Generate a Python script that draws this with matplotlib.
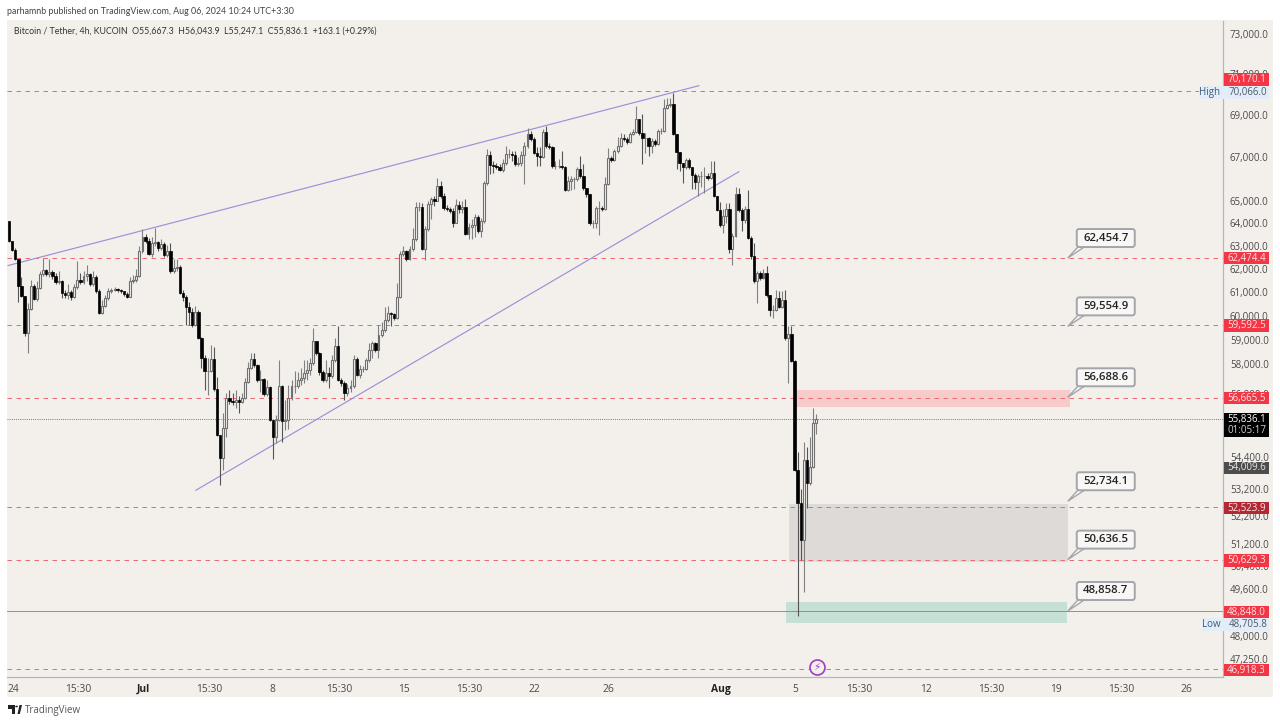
import numpy as np
import matplotlib
matplotlib.use('Agg')
import matplotlib.pyplot as plt
from matplotlib.patches import Rectangle, Polygon, FancyBboxPatch
from matplotlib.transforms import IdentityTransform

plt.rcParams['font.family'] = ['Open Sans', 'DejaVu Sans']

# candle data (4h bars), each open is the close before it
first_open = 64100
closes = [63220, 62824, 62432, 61272, 60808, 59267, 60262, 61272, 60682, 61145,
          61782, 61953, 61782, 61867, 61697, 61442, 61485, 60934, 60850, 60976,
          60766, 61187, 61527, 61442, 61697, 61782, 61315, 61655, 61018, 60095,
          60388, 60724, 61018, 61060, 61102, 61060, 61018, 60892, 60766, 61485,
          61527, 61697, 62780, 63396, 63220, 62650, 63132, 63176, 62912, 63088,
          62606, 62780, 61910, 62040, 62084, 60934, 60766, 60346, 60136, 59597,
          60136, 59062, 58246, 57720, 57720, 58205, 57000, 55210, 54340, 55476,
          56648, 56531, 56492, 56570, 56492, 56648, 57280, 57841, 58205, 57963,
          57360, 57400, 56804, 57080, 55790, 55134, 55790, 57120, 55751, 55790,
          56648, 57120, 57120, 57360, 57440, 57640, 57760, 58043, 58939, 58448,
          57680, 57360, 57640, 57520, 58165, 58734, 57360, 57240, 56843, 57040,
          57120, 58205, 57560, 57800, 57800, 58165, 58570, 58857, 58570, 59185,
          59390, 59805, 60095, 60053, 59888, 60766, 62650, 62780, 62432, 62868,
          63308, 64728, 64728, 62868, 63748, 64865, 65090, 65000, 65680, 65225,
          64684, 64638, 64548, 64012, 64820, 64638, 64728, 63528, 63836, 63924,
          64280, 63660, 64100, 65816, 67109, 66645, 66598, 66552, 66413, 66737,
          67155, 67155, 67109, 66691, 66737, 67109, 67530, 68096, 67860, 67202,
          67062, 67016, 68190, 67530, 67483, 66598, 66598, 66598, 66552, 65496,
          65908, 66000, 66000, 66460, 66137, 65588, 65315, 64012, 64012, 64684,
          64684, 64638, 65770, 66970, 66877, 67295, 67530, 67907, 67860, 67718,
          68096, 68190, 68815, 68143, 67907, 67907, 67530, 67765, 67624, 68238,
          68238, 69340, 69484, 69532, 68096, 67248, 66737, 66552, 66877, 66552,
          66183, 65862, 66137, 66137, 66137, 66046, 66275, 65225, 64593, 63924,
          64324, 64638, 62868, 63440, 65315, 64593, 64145, 64638, 63352, 62562,
          61485, 61825, 61612, 61825, 60850, 60220, 60220, 60724, 60346, 60640,
          59062, 59226, 58124, 53890, 52665, 51335, 54265, 53403, 54002, 55667.3,
          55836.1]
highs = [64100, 63220, 62912, 62432, 61655, 60808, 60514, 61527, 61315, 61485,
         61910, 62475, 61997, 62432, 61953, 61825, 61910, 61527, 61060, 61357,
         61060, 61357, 62345, 61825, 61910, 62170, 61825, 61910, 61740, 61102,
         60640, 60850, 61145, 61145, 61187, 61145, 61102, 61018, 60976, 61655,
         61740, 61997, 63000, 63748, 63528, 63352, 63396, 63792, 63220, 63308,
         63176, 63044, 63132, 62432, 62432, 62170, 61060, 60850, 60556, 60304,
         60388, 60220, 59103, 58367, 58246, 58775, 58693, 57480, 55210, 56063,
         56843, 56960, 56843, 56960, 56726, 56843, 57440, 58084, 58448, 58448,
         58003, 57760, 57440, 57360, 57120, 55790, 55985, 58165, 57160, 56570,
         57160, 57360, 57720, 57680, 57841, 58165, 58165, 58246, 59473, 58939,
         58489, 57760, 58165, 57882, 58367, 59062, 59556, 57440, 57320, 57200,
         57360, 58367, 58286, 57963, 57922, 58246, 58857, 58939, 58898, 59597,
         59722, 60346, 60388, 60136, 60095, 61400, 62780, 63000, 62824, 63000,
         63792, 64955, 64955, 64910, 63880, 65000, 65180, 65225, 66046, 65908,
         65360, 64820, 64728, 64684, 65090, 65000, 65000, 65090, 64012, 64190,
         64413, 64368, 64235, 65908, 67389, 67295, 66830, 66737, 66691, 66923,
         67530, 67389, 67295, 67295, 67016, 67295, 67718, 68380, 68238, 67954,
         67483, 67483, 68333, 68475, 67671, 67530, 66830, 66923, 67295, 66598,
         66137, 66137, 66092, 66552, 67062, 66691, 65588, 65315, 64145, 64775,
         65000, 64775, 66092, 67436, 67062, 67389, 67954, 68143, 68096, 67954,
         68190, 68333, 69430, 68815, 69050, 68143, 67954, 67907, 67860, 68333,
         68380, 69770, 69818, 69818, 70066, 68096, 67248, 66737, 66970, 66970,
         66552, 66275, 66229, 66367, 66552, 66275, 66830, 66830, 65225, 64955,
         64638, 64910, 64910, 63572, 65633, 65588, 64684, 64775, 65496, 63440,
         63132, 61910, 61910, 61997, 62125, 60850, 60430, 61060, 61018, 61018,
         61060, 59556, 59556, 58165, 54565, 53178, 54944, 54754, 55134, 56258,
         56043.9]
lows = [63176, 62780, 62388, 60556, 60766, 59144, 58448, 60220, 60640, 60598,
        61102, 61697, 61697, 61655, 61570, 61357, 61357, 60724, 60724, 60682,
        60640, 60724, 61102, 61357, 61357, 61485, 61230, 61230, 60934, 60053,
        60053, 60346, 60640, 60934, 61018, 60976, 60934, 60808, 60724, 60766,
        61400, 61442, 61655, 62692, 63132, 62606, 62520, 63000, 62780, 62824,
        62520, 62520, 61825, 61825, 61910, 60892, 60598, 59597, 59597, 59514,
        59555, 59021, 57841, 56960, 56765, 57680, 56920, 55172, 53328, 53890,
        55134, 56414, 56375, 56258, 56063, 56453, 56609, 57240, 57800, 57882,
        57280, 56882, 56726, 56726, 55751, 54302, 54906, 55751, 54944, 55400,
        55439, 56570, 56843, 57040, 57160, 57240, 57360, 57560, 57963, 58367,
        57560, 57280, 57280, 57040, 57440, 58084, 57320, 57120, 56570, 56726,
        56882, 57040, 57520, 57440, 57680, 57760, 58084, 58246, 58489, 58246,
        59103, 59308, 59722, 59555, 59805, 59846, 60724, 62562, 62345, 62388,
        62780, 63220, 64548, 62824, 62388, 63660, 64190, 64775, 65000, 65135,
        64593, 64548, 64458, 63836, 64012, 64458, 64458, 63484, 63308, 63308,
        63396, 63572, 63396, 64012, 65725, 66229, 66275, 66460, 66367, 66321,
        66645, 66970, 66830, 66598, 66598, 66598, 65770, 67436, 67765, 67155,
        66598, 66598, 66970, 67436, 67389, 66506, 66460, 66506, 66460, 65450,
        65450, 65496, 65542, 65908, 66046, 65496, 65180, 63924, 63792, 63792,
        63484, 64548, 64593, 65725, 66784, 66830, 67202, 67483, 67765, 67624,
        67671, 68048, 68143, 68048, 66691, 67202, 67062, 67202, 67530, 67577,
        68096, 68190, 69290, 69388, 68048, 66460, 66367, 65816, 66460, 66460,
        65542, 65542, 65225, 65633, 65360, 65954, 66000, 65180, 64548, 63836,
        63572, 64012, 62692, 62170, 63396, 64503, 63660, 64012, 63308, 62432,
        61400, 60514, 61527, 61570, 60766, 59972, 59888, 60178, 60304, 60304,
        58980, 57240, 58084, 53852, 48705.8, 50630, 49523, 52483, 53328, 53965,
        55247.1]

# price levels and drawings
dashed_levels = [70170.1, 62474.4, 59592.5, 56665.5, 52523.9, 50629.3, 46918.3]
solid_level = 48848.0
last_price = 55836.1

upper_line_x = [-0.3, 222.2]
upper_line_price = [62128, 70408]
lower_line_x = [60.2, 235.1]
lower_line_price = [53140, 66321]

red_zone = (253.1, 341.7, 56300, 56985)
grey_zone = (251.2, 341.0, 50550, 52625)
green_zone = (250.2, 340.7, 48460, 49180)

callout_x = 341.0
callout_labels = ['62,454.7', '59,554.9', '56,688.6', '52,734.1', '50,636.5', '48,858.7']
callout_prices = [62454.7, 59554.9, 56688.6, 52734.1, 50636.5, 48858.7]

y_ticks = [73000, 71000, 69000, 67000, 65000, 64000, 63000, 62000, 61000, 60000, 59000,
           58000, 56800, 54400, 53200, 52200, 51200, 50400, 49600, 48000, 47250]
x_tick_pos = [1.3, 22.2, 43.2, 64.4, 85, 106.3, 127.2, 148.1, 169.1, 193.2, 229.3,
              253.1, 274, 295.3, 316.3, 337.2, 358.1, 379.1]
x_tick_labels = ['24', '15:30', 'Jul', '15:30', '8', '15:30', '15', '15:30', '22', '26', 'Aug',
                 '5', '15:30', '12', '15:30', '19', '15:30', '26']

# tag text, colour and centre row on the price scale
tag_labels = ['70,170.1', '62,474.4', '59,592.5', '56,665.5', '52,523.9', '50,629.3', '48,848.0', '46,918.3']
tag_colors = ['#f23645', '#f23645', '#f23645', '#f23645', '#b22833', '#f23645', '#f23645', '#f23645']
tag_rows = [79.5, 258, 325.5, 398, 508, 560.5, 612, 670]

W, H = 1280, 723
BG = '#f3f0ec'
RED = '#ef6b73'
PURPLE = '#9d90d8'
CALLOUT_EDGE = '#a3a5ab'
CALLOUT_FACE = '#f8f7f5'


def fx(px):
    return px / W


def fy(py):
    return 1 - py / H


def box(x0, y0, x1, y1, color, z=5):
    fig.add_artist(Rectangle((fx(x0), fy(y1)), (x1 - x0) / W, (y1 - y0) / H, transform=fig.transFigure,
                             facecolor=color, edgecolor='none', zorder=z))


def side_text(x, y, s, color, size=7.0, ha='center', weight='normal', z=6, family=None):
    fig.text(fx(x), fy(y), s, color=color, fontsize=size, ha=ha, va='center', fontweight=weight, zorder=z,
             family=family)


fig = plt.figure(figsize=(W / 100, H / 100), dpi=100, facecolor='white')
box(7, 20, 1273, 697, BG, z=-1)

ax = fig.add_axes([fx(7), fy(677.2), (1223 - 7) / W, (677.2 - 20.7) / H])
ax.set_facecolor(BG)
ax.set_yscale('log')
ax.set_ylim(46660, 73663)
ax.set_xlim(-0.64, 391)

opens = np.array([first_open] + closes[:-1], dtype=float)
closes_arr = np.array(closes, dtype=float)
highs_arr = np.array(highs, dtype=float)
lows_arr = np.array(lows, dtype=float)
idx = np.arange(len(closes_arr))
up = closes_arr >= opens

# zones go under everything
for x0, x1, p0, p1, col in [(*red_zone, '#f6cbc9'), (*grey_zone, '#dedad8'), (*green_zone, '#c6e0d6')]:
    ax.add_patch(Rectangle((x0, p0), x1 - x0, p1 - p0, facecolor=col, edgecolor='none', zorder=1))

for lev in dashed_levels:
    ax.axhline(lev, color=RED, lw=0.72, ls=(0, (4.5, 4.5)), zorder=2)
ax.axhline(solid_level, color=RED, lw=0.72, zorder=2)
ax.axhline(last_price, color='#777777', lw=0.7, ls=(0, (1, 1.2)), zorder=2)

ax.plot(upper_line_x, upper_line_price, color=PURPLE, lw=0.85, zorder=3)
ax.plot(lower_line_x, lower_line_price, color=PURPLE, lw=0.85, zorder=3)

# wicks then bodies
ax.vlines(idx[up], lows_arr[up], highs_arr[up], color='#808080', lw=0.8, zorder=4)
ax.vlines(idx[~up], lows_arr[~up], highs_arr[~up], color='#555555', lw=0.8, zorder=4)
ax.bar(idx[up], np.abs(closes_arr - opens)[up], bottom=opens[up], width=0.62,
       facecolor='#f7f5f2', edgecolor='#707070', linewidth=0.8, zorder=5)
ax.bar(idx[~up], (opens - closes_arr)[~up], bottom=closes_arr[~up], width=0.78,
       facecolor='black', edgecolor='black', linewidth=0.5, zorder=5)

# callouts, worked out from the level in screen pixels so the box keeps its size
to_screen = ax.transData
for lab, price in zip(callout_labels, callout_prices):
    tip_x, tip_y = to_screen.transform((callout_x, price))
    wedge = Polygon([(tip_x, tip_y), (tip_x + 18, tip_y + 12), (tip_x + 11, tip_y + 12)], closed=True,
                    transform=IdentityTransform(), facecolor=CALLOUT_FACE, edgecolor=CALLOUT_EDGE, lw=1.0,
                    clip_on=False, zorder=8)
    ax.add_patch(wedge)
    card = FancyBboxPatch((tip_x + 9, tip_y + 11), 58, 18, boxstyle='round,pad=0,rounding_size=2.5',
                          transform=IdentityTransform(), facecolor=CALLOUT_FACE, edgecolor=CALLOUT_EDGE, lw=1.4,
                          clip_on=False, zorder=9)
    ax.add_patch(card)
    ax.text(tip_x + 38, tip_y + 20, lab, transform=IdentityTransform(), ha='center', va='center', fontsize=8.2,
            color='#222222', fontweight='semibold', zorder=10)

# bolt marker sits on the bar time below the last candle
ax.plot([260.3], [47000], marker='o', ms=10.8, mfc=BG, mec='#9c3fc0', mew=1.2, zorder=6)
ax.text(260.3, 47000, '\u26a1', color='#9c3fc0', fontsize=7.5, ha='center', va='center',
        family='DejaVu Sans', zorder=7)

ax.yaxis.tick_right()
ax.set_yticks(y_ticks)
ax.set_yticklabels([f'{t:,.1f}' for t in y_ticks])
ax.yaxis.set_minor_locator(matplotlib.ticker.NullLocator())
ax.tick_params(axis='y', length=0, pad=5, labelsize=7.0, labelcolor='#4a4a4a')
ax.set_xticks(x_tick_pos)
ax.set_xticklabels(x_tick_labels)
ax.tick_params(axis='x', length=0, pad=5, labelsize=7.4, labelcolor='#4a4a4a')
for lab in ax.get_xticklabels():
    if lab.get_text() in ('Jul', 'Aug'):
        lab.set_fontweight('bold')
        lab.set_color('#222222')
for side in ('left', 'top'):
    ax.spines[side].set_visible(False)
for side in ('right', 'bottom'):
    ax.spines[side].set_color('#b5b5b5')
    ax.spines[side].set_linewidth(0.9)

# price scale tags
for lab, col, row in zip(tag_labels, tag_colors, tag_rows):
    box(1224, row - 6.3, 1269, row + 6.3, col)
    side_text(1246.5, row, lab, '#fde3e5')
box(1199, 86, 1269, 98.5, '#e3edf7')
side_text(1210, 92, 'High', '#3d5a78')
side_text(1248, 92, '70,066.0', '#4a5a6a')
box(1202, 618, 1269, 631, '#e3edf7')
side_text(1211, 624.5, 'Low', '#3d5a78')
side_text(1248, 624.5, '48,705.8', '#4a5a6a')
box(1224, 413, 1269, 437, 'black')
side_text(1246.5, 419.5, '55,836.1', 'white')
side_text(1246.5, 430.5, '01:05:17', '#cfcfcf')
box(1224, 461.5, 1269, 474, '#4d4d4d')
side_text(1246.5, 467.5, '54,009.6', '#e6e6e6')

# header, legend, footer
side_text(7, 11, 'parhamnb published on TradingView.com, Aug 06, 2024 10:24 UTC+3:30', '#444444', size=6.4, ha='left',
          family='Lato')
side_text(14, 31, 'Bitcoin / Tether, 4h, KUCOIN  O55,667.3  H56,043.9  L55,247.1  C55,836.1  +163.1 (+0.29%)',
          '#333333', size=6.3, ha='left', family='Lato')
side_text(25, 710, 'TradingView', '#555555', size=7.0, ha='left')
for pts in ([(8, 705), (15, 705), (15, 714), (11.5, 714), (11.5, 708.5), (8, 708.5)],
            [(17.5, 714), (19.5, 705), (22, 705), (19.8, 714)]):
    fig.add_artist(Polygon([(fx(a), fy(b)) for a, b in pts], transform=fig.transFigure,
                           facecolor='#222222', edgecolor='none'))
fig.add_artist(plt.Circle((fx(16.6), fy(706.5)), 1.4 / W, transform=fig.transFigure, facecolor='#222222', edgecolor='none'))

fig.savefig('out.png', dpi=100, facecolor='white')
